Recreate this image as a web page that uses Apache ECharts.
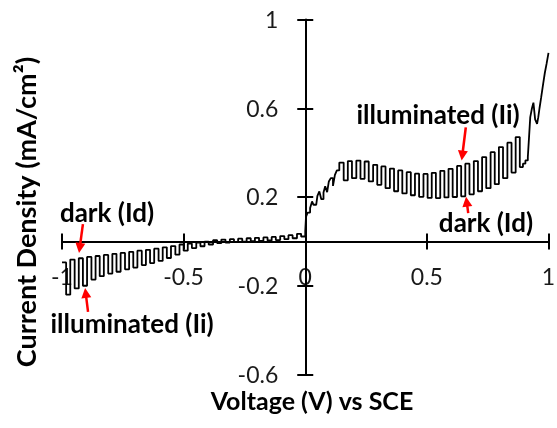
<!DOCTYPE html>
<html>
<head>
<meta charset="utf-8">
<script src="https://cdn.jsdelivr.net/npm/echarts@6/dist/echarts.min.js"></script>
<style>
  html, body { margin: 0; padding: 0; background: #fff; }
  #chart { width: 557px; height: 428px; }
</style>
</head>
<body>
<div id="chart"></div>
<script>
// Chopped-light linear sweep. Each entry is one plateau (dark or illuminated);
// the level holds from its potential until the next one.
const potential = [
  -1.000, -0.983, -0.966, -0.948, -0.931, -0.914, -0.897, -0.879, -0.862, -0.845,
  -0.828, -0.810, -0.793, -0.776, -0.759, -0.741, -0.724, -0.707, -0.690, -0.672,
  -0.655, -0.638, -0.621, -0.603, -0.586, -0.569, -0.552, -0.534, -0.517, -0.500,
  -0.483, -0.466, -0.448, -0.431, -0.414, -0.397, -0.379, -0.362, -0.345, -0.328,
  -0.310, -0.293, -0.276, -0.259, -0.241, -0.224, -0.207, -0.190, -0.172, -0.155,
  -0.138, -0.121, -0.103, -0.086, -0.069, -0.052, -0.034, -0.017, 0.000,
  0.003, 0.010, 0.020, 0.028, 0.034, 0.045, 0.050, 0.058, 0.066, 0.075,
  0.082, 0.090, 0.097, 0.105, 0.114, 0.122, 0.130, 0.140, 0.158,
  0.175, 0.192, 0.210, 0.227, 0.244, 0.261, 0.279, 0.296, 0.313, 0.330,
  0.348, 0.365, 0.382, 0.399, 0.417, 0.434, 0.451, 0.468, 0.486, 0.503,
  0.520, 0.537, 0.555, 0.572, 0.589, 0.606, 0.624, 0.641, 0.658, 0.675,
  0.693, 0.710, 0.727, 0.744, 0.762, 0.779, 0.796, 0.813, 0.831, 0.848,
  0.865, 0.882, 0.895, 0.905, 0.915, 0.920, 0.925, 0.932, 0.938, 0.945,
  0.953, 0.958, 0.963, 0.970, 0.978, 0.985, 0.992, 1.000
];
const currentDensity = [
  -0.095, -0.240, -0.082, -0.212, -0.076, -0.200, -0.070, -0.172, -0.066, -0.157,
  -0.061, -0.145, -0.056, -0.137, -0.052, -0.126, -0.047, -0.118, -0.042, -0.107,
  -0.038, -0.098, -0.033, -0.088, -0.027, -0.075, -0.021, -0.060, -0.014, -0.042,
  -0.010, -0.030, -0.005, -0.022, -0.001, -0.014, 0.005, -0.008, 0.008, -0.005,
  0.010, -0.003, 0.012, -0.001, 0.014, 0.001, 0.016, 0.002, 0.018, 0.004,
  0.020, 0.006, 0.024, 0.010, 0.028, 0.014, 0.034, 0.022, 0.045,
  0.110, 0.130, 0.150, 0.180, 0.165, 0.170, 0.205, 0.225, 0.190, 0.220,
  0.248, 0.222, 0.270, 0.285, 0.250, 0.300, 0.320, 0.355, 0.275,
  0.362, 0.285, 0.364, 0.282, 0.360, 0.270, 0.345, 0.255, 0.338, 0.240,
  0.328, 0.226, 0.320, 0.216, 0.312, 0.208, 0.305, 0.201, 0.304, 0.196,
  0.309, 0.195, 0.318, 0.198, 0.327, 0.200, 0.340, 0.203, 0.350, 0.212,
  0.362, 0.226, 0.380, 0.240, 0.402, 0.258, 0.425, 0.285, 0.445, 0.310,
  0.470, 0.335, 0.350, 0.365, 0.380, 0.470, 0.560, 0.600, 0.625, 0.550,
  0.530, 0.560, 0.600, 0.650, 0.710, 0.760, 0.800, 0.850
];

const xTicks = [-1, -0.5, 0, 0.5, 1];
const yTicks = [-0.6, -0.2, 0.2, 0.6, 1];

const xTitle = 'Voltage (V) vs SCE';
const yTitle = 'Current Density (mA/cm²)';

const FONT = 'Lato, "Open Sans", sans-serif';
const INK = '#000';
const LABEL_INK = '#1a1a1a';
const ARROW_RED = '#ff0000';

const step = (arr) => Math.round((arr[1] - arr[0]) * 1000) / 1000;
const fmt = (v) => String(Math.round(v * 10) / 10);

const xScale = { type: 'value', min: xTicks[0], max: xTicks[xTicks.length - 1], interval: step(xTicks) };
const yScale = { type: 'value', min: yTicks[0], max: yTicks[yTicks.length - 1], interval: step(yTicks) };
const axisLineStyle = { color: INK, width: 2 };

const chart = echarts.init(document.getElementById('chart'), null, { renderer: 'canvas' });

// Each axis is drawn twice through the origin: one copy carries the outward
// half of every tick, the other the inward half, giving crossing tick marks.
chart.setOption({
  animation: false,
  backgroundColor: '#fff',
  grid: { left: 62, right: 8.5, top: 19.5, bottom: 53.5, containLabel: false },
  xAxis: [
    Object.assign({}, xScale, {
      position: 'bottom', z: 2,
      axisLine: { show: true, onZero: true, lineStyle: axisLineStyle },
      axisTick: { show: true, inside: false, length: 8, lineStyle: axisLineStyle },
      axisLabel: { show: false },
      splitLine: { show: false }
    }),
    Object.assign({}, xScale, {
      position: 'bottom', z: 2,
      axisLine: { show: false, onZero: true },
      axisTick: { show: true, inside: true, length: 8, lineStyle: axisLineStyle },
      axisLabel: { show: false },
      splitLine: { show: false }
    })
  ],
  yAxis: [
    Object.assign({}, yScale, {
      position: 'left', z: 2,
      axisLine: { show: true, onZero: true, lineStyle: axisLineStyle },
      axisTick: { show: true, inside: false, length: 8, lineStyle: axisLineStyle },
      axisLabel: { show: false },
      splitLine: { show: false }
    }),
    Object.assign({}, yScale, {
      position: 'left', z: 2,
      axisLine: { show: false, onZero: true },
      axisTick: { show: true, inside: true, length: 8, lineStyle: axisLineStyle },
      axisLabel: { show: false },
      splitLine: { show: false }
    })
  ],
  series: [{
    type: 'line',
    xAxisIndex: 0,
    yAxisIndex: 0,
    step: 'end',
    symbol: 'none',
    z: 3,
    lineStyle: { color: INK, width: 1.8 },
    data: potential.map((v, i) => [v, currentDensity[i]])
  }]
});

const px = (p) => chart.convertToPixel({ gridIndex: 0 }, p);
const origin = px([0, 0]);

const graphics = [];

// Tick labels sit beside the axes that cross at the origin.
xTicks.forEach((v) => {
  const p = px([v, 0]);
  graphics.push({
    type: 'text', z: 1, silent: true, x: p[0], y: origin[1] + 36,
    style: { text: fmt(v), fill: LABEL_INK, fontSize: 23, fontFamily: FONT,
             align: 'center', verticalAlign: 'middle', textAlign: 'center', textVerticalAlign: 'middle' }
  });
});
yTicks.forEach((v) => {
  const p = px([0, v]);
  graphics.push({
    type: 'text', z: 1, silent: true, x: origin[0] - 27, y: p[1] + 1,
    style: { text: fmt(v), fill: LABEL_INK, fontSize: 23, fontFamily: FONT,
             align: 'right', verticalAlign: 'middle', textAlign: 'right', textVerticalAlign: 'middle' }
  });
});

// Annotation anchors are given in data units (V, mA/cm²).
const notes = [
  { text: 'dark (Id)',        at: [-0.815, 0.123],  from: [-0.914, 0.078], to: [-0.930, -0.052] },
  { text: 'illuminated (Ii)', at: [-0.712, -0.377], from: [-0.893, -0.318], to: [-0.905, -0.210] },
  { text: 'illuminated (Ii)', at: [0.546, 0.565],   from: [0.660, 0.514],  to: [0.643, 0.364] },
  { text: 'dark (Id)',        at: [0.743, 0.078],   from: [0.670, 0.127],  to: [0.661, 0.201] }
];

function arrowShapes(from, to) {
  const a = px(from), b = px(to);
  const dx = b[0] - a[0], dy = b[1] - a[1];
  const len = Math.hypot(dx, dy);
  const ux = dx / len, uy = dy / len;
  const headLen = 10, headHalf = 5;
  const bx = b[0] - ux * headLen, by = b[1] - uy * headLen;
  return [
    { type: 'line', z: 20, silent: true,
      shape: { x1: a[0], y1: a[1], x2: bx + ux * 2, y2: by + uy * 2 },
      style: { stroke: ARROW_RED, lineWidth: 2.5 } },
    { type: 'polygon', z: 20, silent: true,
      shape: { points: [[b[0], b[1]], [bx - uy * headHalf, by + ux * headHalf], [bx + uy * headHalf, by - ux * headHalf]] },
      style: { fill: ARROW_RED } }
  ];
}

notes.forEach((n) => {
  const c = px(n.at);
  graphics.push({
    type: 'text', z: 20, silent: true, x: c[0], y: c[1],
    style: { text: n.text, fill: INK, fontSize: 26, fontWeight: 'bold', fontFamily: FONT,
             align: 'center', verticalAlign: 'middle', textAlign: 'center', textVerticalAlign: 'middle' }
  });
  arrowShapes(n.from, n.to).forEach((s) => graphics.push(s));
});

graphics.push({
  type: 'text', z: 20, silent: true, x: 312, y: 402,
  style: { text: xTitle, fill: INK, fontSize: 25, fontWeight: 'bold', fontFamily: FONT,
           align: 'center', verticalAlign: 'middle', textAlign: 'center', textVerticalAlign: 'middle' }
});
graphics.push({
  type: 'text', z: 20, silent: true, x: 27, y: 212, rotation: Math.PI / 2,
  style: { text: yTitle, fill: INK, fontSize: 27, fontWeight: 'bold', fontFamily: FONT,
           align: 'center', verticalAlign: 'middle', textAlign: 'center', textVerticalAlign: 'middle' }
});

chart.setOption({ graphic: graphics });
</script>
</body>
</html>
